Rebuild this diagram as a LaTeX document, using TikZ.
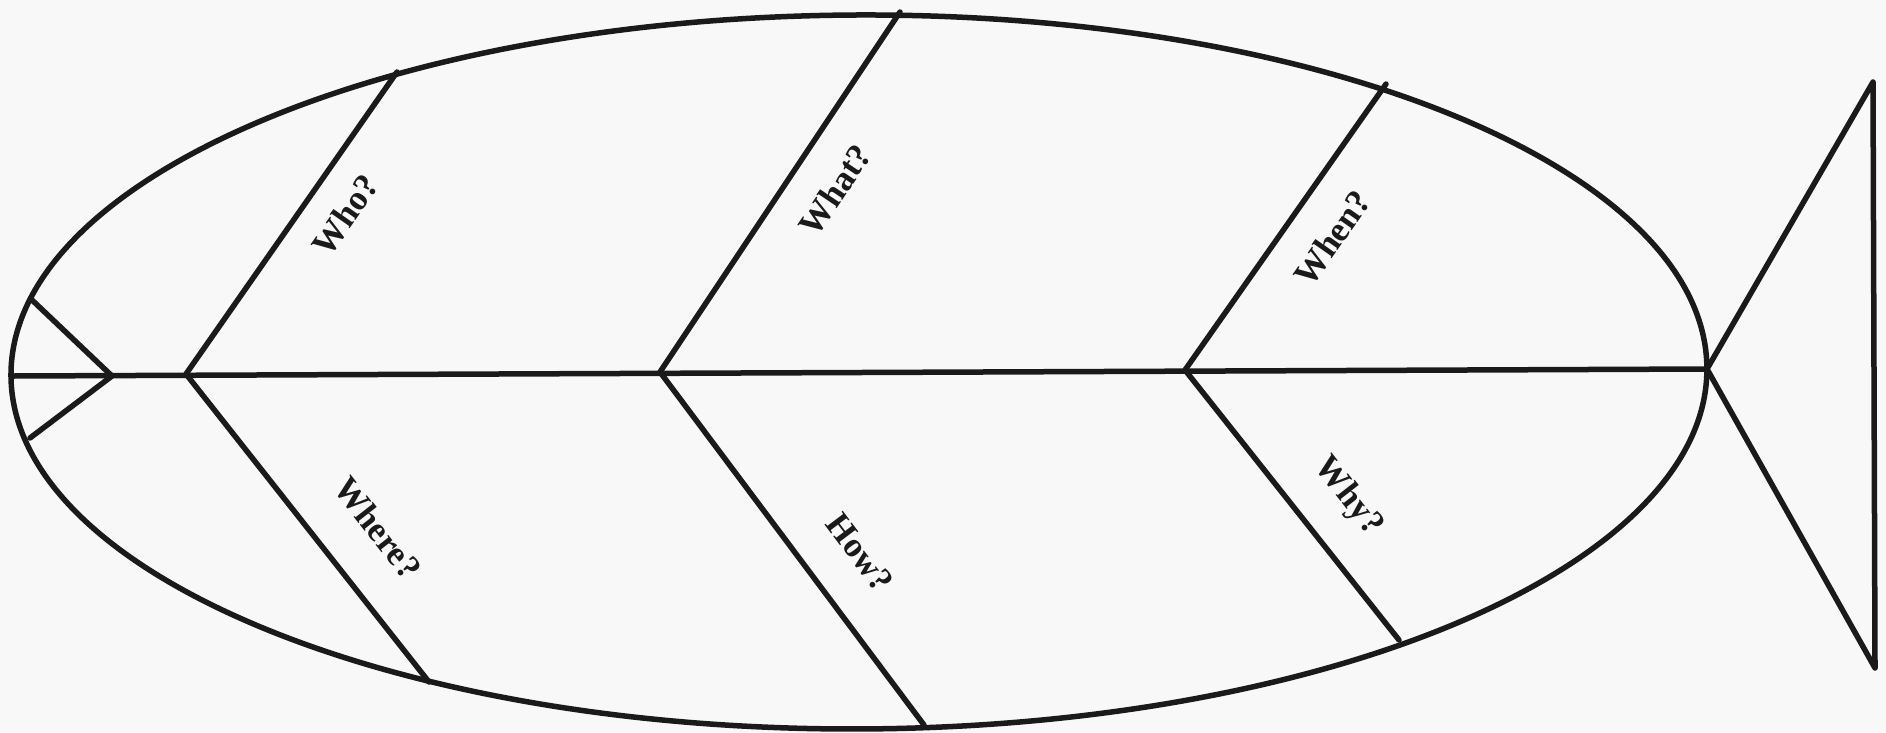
\documentclass[tikz,border=0pt]{standalone}
\usepackage{fontspec}
\setmainfont{Liberation Serif}
\definecolor{ink}{HTML}{1A1A1A}
\definecolor{paper}{HTML}{F8F8F8}
\tikzset{
  bone/.style={draw=ink, line width=5.5pt, line cap=round, line join=round},
  lbl/.style={text=ink, font=\fontsize{35}{40}\selectfont\bfseries, inner sep=0pt}
}
\begin{document}
\begin{tikzpicture}[x=1pt,y=-1pt]
\fill[paper] (0,0) rectangle (1886,732);
\useasboundingbox (0,0) rectangle (1886,732);
% key points
\coordinate (c) at (859,372);
\coordinate (nose) at (12,376);
\coordinate (tip) at (112,376);
\coordinate (headU) at (32,300);
\coordinate (headL) at (30,438);
\coordinate (j1) at (186,374);
\coordinate (j2) at (660,372);
\coordinate (j3) at (1185,370);
\coordinate (tailJ) at (1707,369);
\coordinate (who) at (397,72);
\coordinate (what) at (900,12);
\coordinate (when) at (1386,84);
\coordinate (where) at (429,682);
\coordinate (how) at (924,725);
\coordinate (why) at (1399,640);
\coordinate (tailT) at (1873,82);
\coordinate (tailB) at (1875,668);
% body
\draw[bone, rotate around={0.24:(c)}] (c) ellipse [x radius=848pt, y radius=357pt];
\draw[bone] (nose) -- (tailJ);
\draw[bone] (headU) -- (tip) -- (headL);
\draw[bone] (who) -- (j1) -- (where);
\draw[bone] (what) -- (j2) -- (how);
\draw[bone] (when) -- (j3) -- (why);
\draw[bone] (tailJ) -- (tailT) -- (tailB) -- cycle;
% labels
\node[lbl, rotate=55] (tWho) at (345,215) {Who?};
\node[lbl, rotate=56] (tWhat) at (835,190) {What?};
\node[lbl, rotate=55] (tWhen) at (1332,238) {When?};
\node[lbl, rotate=-52] (tWhere) at (378,528) {Where?};
\node[lbl, rotate=-53] (tHow) at (860,553) {How?};
\node[lbl, rotate=-52] (tWhy) at (1348,497) {Why?};
\end{tikzpicture}
\end{document}
